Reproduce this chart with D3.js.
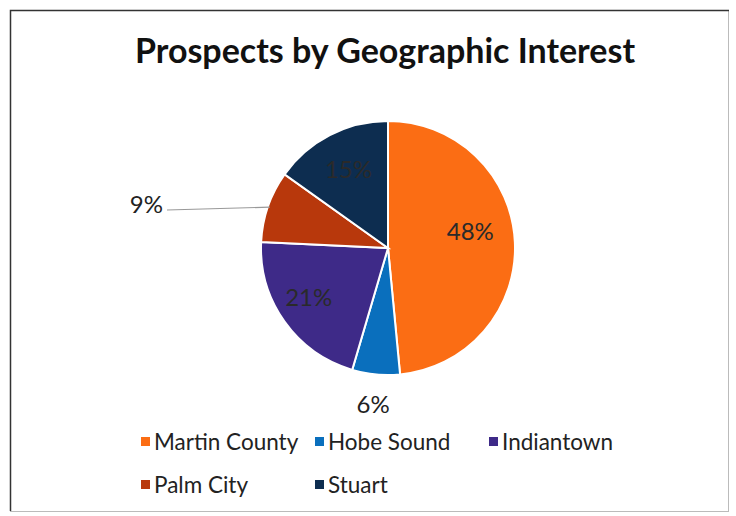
<!DOCTYPE html>
<html>
<head>
  <meta charset="UTF-8">
  <title>pie</title>
  <style>
  body, html, svg{
    padding: 0;
    margin: 0;
  }
  body{
    background: #fff;
  }
  </style>
</head>
<body>
  <script src="https://cdn.jsdelivr.net/npm/d3@7"></script>
  <script type="text/javascript">
  var width = 736;
  var height = 516;

  // data
  var categories = ['Martin County', 'Hobe Sound', 'Indiantown', 'Palm City', 'Stuart'];
  var values = [48, 6, 21, 9, 15];
  var colors = ['#fb6d14', '#0a6fbd', '#3e2a88', '#b8380c', '#0d2d50'];

  var svg = d3.select('body')
    .append('svg')
    .attr('width', width)
    .attr('height', height);

  // frame
  svg.append('rect')
    .attr('x', 10.5).attr('y', 10.5)
    .attr('width', 718).attr('height', 501)
    .attr('fill', '#fff')
    .attr('stroke', '#bbb')
    .attr('stroke-width', 1);
  svg.append('path')
    .attr('d', 'M10.5,511 L10.5,10.5 L729,10.5')
    .attr('fill', 'none')
    .attr('stroke', '#333')
    .attr('stroke-width', 1.5);

  // title
  svg.append('text')
    .attr('x', 385).attr('y', 63)
    .attr('text-anchor', 'middle')
    .attr('font-family', 'Lato, sans-serif')
    .attr('font-weight', 'bold')
    .attr('font-size', 34)
    .attr('fill', '#111')
    .text('Prospects by Geographic Interest');

  // pie
  var cx = 388, cy = 248, r = 127;
  var g = svg.append('g').attr('transform', 'translate(' + cx + ',' + cy + ')');
  var pie = d3.pie().sort(null).value(function(d){ return d; });
  var arcs = pie(values);
  var arc = d3.arc().innerRadius(0).outerRadius(r);

  g.selectAll('path')
    .data(arcs)
    .enter()
    .append('path')
    .attr('d', arc)
    .attr('fill', function(d, i){ return colors[i]; })
    .attr('stroke', '#fff')
    .attr('stroke-width', 2);

  // labels
  var fmt = function(v){ return v + '%'; };
  var labelSize = 24;
  var inside = d3.arc().innerRadius(r * 0.68).outerRadius(r * 0.68);
  var insideIdx = [0, 2, 4];
  var nudge = {0: [-4, -12], 2: [-9, 0], 4: [0, -2]};
  insideIdx.forEach(function(i){
    var p = inside.centroid(arcs[i]);
    g.append('text')
      .attr('x', p[0] + nudge[i][0]).attr('y', p[1] + nudge[i][1])
      .attr('text-anchor', 'middle')
      .attr('dy', '0.35em')
      .attr('font-family', 'Lato, sans-serif')
      .attr('font-size', labelSize)
      .attr('fill', '#2a2a2a')
      .text(fmt(values[i]));
  });

  // Hobe Sound: outside below
  var hs = d3.arc().innerRadius(r + 30).outerRadius(r + 30).centroid(arcs[1]);
  g.append('text')
    .attr('x', hs[0]).attr('y', hs[1])
    .attr('text-anchor', 'middle')
    .attr('dy', '0.35em')
    .attr('font-family', 'Lato, sans-serif')
    .attr('font-size', labelSize)
    .attr('fill', '#222')
    .text(fmt(values[1]));

  // Palm City: outside with leader line
  var pcEdge = d3.arc().innerRadius(r - 2).outerRadius(r - 2).centroid(arcs[3]);
  g.append('line')
    .attr('x1', pcEdge[0]).attr('y1', pcEdge[1])
    .attr('x2', -221).attr('y2', -38)
    .attr('stroke', '#999')
    .attr('stroke-width', 1.2);
  g.append('text')
    .attr('x', -225).attr('y', -43)
    .attr('text-anchor', 'end')
    .attr('dy', '0.35em')
    .attr('font-family', 'Lato, sans-serif')
    .attr('font-size', labelSize)
    .attr('fill', '#222')
    .text(fmt(values[3]));

  // legend
  var legendPos = [[141, 442], [315, 442], [489, 442], [141, 485], [315, 485]];
  var lg = svg.append('g')
    .selectAll('g')
    .data(categories)
    .enter()
    .append('g')
    .attr('transform', function(d, i){ return 'translate(' + legendPos[i][0] + ',' + legendPos[i][1] + ')'; });
  lg.append('rect')
    .attr('x', 0).attr('y', -5)
    .attr('width', 9).attr('height', 9)
    .attr('fill', function(d, i){ return colors[i]; });
  lg.append('text')
    .attr('x', 13).attr('y', 0)
    .attr('dy', '0.35em')
    .attr('font-family', 'Lato, sans-serif')
    .attr('font-size', 22.5)
    .attr('fill', '#222')
    .text(function(d){ return d; });
  </script>
</body>
</html>
